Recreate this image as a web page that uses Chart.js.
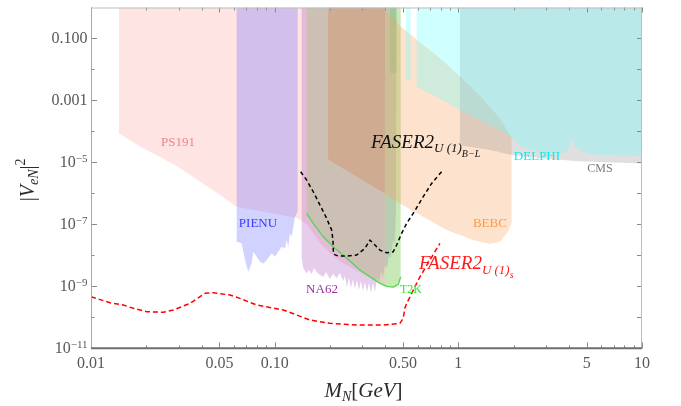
<!DOCTYPE html>
<html>
<head>
<meta charset="utf-8">
<title>Heavy neutral lepton mixing bounds</title>
<script src="https://cdn.jsdelivr.net/npm/chart.js@4.4.1/dist/chart.umd.min.js"></script>
<style>
  html, body { margin: 0; padding: 0; background: #ffffff; }
  #box { width: 681px; height: 406px; }
</style>
</head>
<body>
<div id="box"><canvas id="chart" width="681" height="406"></canvas></div>
<script>
// ---- axis ticks ----
const massTicks = [0.01, 0.05, 0.1, 0.5, 1, 5, 10];
const massTickLabels = ['0.01', '0.05', '0.10', '0.50', '1', '5', '10'];
const massMinorTicks = [0.02, 0.03, 0.04, 0.06, 0.07, 0.08, 0.09, 0.2, 0.3, 0.4, 0.6, 0.7, 0.8, 0.9, 2, 3, 4, 6, 7, 8, 9];
const mixTicks = [1e-1, 1e-3, 1e-5, 1e-7, 1e-9, 1e-11];
const mixTickLabels = ['0.100', '0.001', '10^-5', '10^-7', '10^-9', '10^-11'];
const mixMinorTicks = [1e-2, 1e-4, 1e-6, 1e-8, 1e-10];

// ---- excluded regions (closed outlines, mass in GeV vs |V_eN|^2) ----
const ps191Mass = [0.0142, 0.0142, 0.0185, 0.0238, 0.0305, 0.0392, 0.0504, 0.062, 0.08, 0.1, 0.133, 0.149, 0.165, 0.1765, 0.2, 0.235, 0.29, 0.34, 0.4, 0.45, 0.485, 0.485];
const ps191Mix  = [1, 8.7e-5, 3.2e-5, 1.5e-5, 6.6e-6, 2.4e-6, 8.9e-7, 3.7e-7, 2.8e-7, 2.2e-7, 1.6e-7, 1.0e-7, 4.5e-8, 2.5e-8, 1.2e-8, 5.6e-9, 2.9e-9, 1.7e-9, 1.0e-9, 9e-10, 1.6e-9, 1];

const pienuMass = [0.0621, 0.0621, 0.0661, 0.0689, 0.0718, 0.075, 0.0765, 0.0798, 0.0832, 0.0867, 0.0905, 0.0963, 0.1004, 0.1046, 0.1092, 0.1138, 0.1162, 0.1186, 0.1211, 0.1238, 0.129, 0.1334, 0.1334];
const pienuMix  = [1, 2.75e-8, 2.44e-8, 7.05e-9, 2.96e-9, 5.65e-9, 1.31e-8, 9.0e-9, 6.2e-9, 5.5e-9, 7.05e-9, 1.16e-8, 9.0e-9, 1.31e-8, 1.89e-8, 1.68e-8, 3.12e-8, 1.89e-8, 5.13e-8, 3.98e-8, 1.76e-7, 2.55e-7, 1];

const na62Mass = [0.1403, 0.1403, 0.1431, 0.1493, 0.1537, 0.159, 0.1636, 0.1693, 0.1765, 0.1839, 0.1903, 0.2, 0.2077, 0.2176, 0.2267, 0.2362, 0.2414, 0.2466, 0.2538, 0.2602, 0.2668, 0.2736, 0.2805, 0.2876, 0.2949, 0.3024, 0.3101, 0.318, 0.3261, 0.3343, 0.3428, 0.3516, 0.3605, 0.3697, 0.3791, 0.3887, 0.3985, 0.4087, 0.4191, 0.4297, 0.4406, 0.449, 0.4574, 0.46];
const na62Mix  = [1, 8.0e-9, 3.9e-9, 2.63e-9, 3.36e-9, 2.49e-9, 3.9e-9, 2.89e-9, 2.32e-9, 2.0e-9, 2.89e-9, 1.72e-9, 2.49e-9, 1.85e-9, 2.69e-9, 1.48e-9, 2.15e-9, 9.5e-10, 1.85e-9, 8.8e-10, 1.72e-9, 8.2e-10, 1.6e-9, 7.6e-10, 1.48e-9, 7.05e-10, 1.38e-9, 6.55e-10, 1.28e-9, 6.08e-10, 1.28e-9, 6.55e-10, 1.85e-9, 1.38e-9, 2.89e-9, 2.15e-9, 4.52e-9, 3.9e-9, 9.5e-9, 8.2e-9, 3.12e-8, 2.15e-8, 2.0e-7, 1];

// unlabelled bound sitting on the T2K edge
const bandMass = [0.1493, 0.1493, 0.1622, 0.1839, 0.2085, 0.2466, 0.2912, 0.3302, 0.3743, 0.3985, 0.3985];
const bandMix  = [1, 2.26e-7, 1.08e-7, 3.98e-8, 1.89e-8, 8.0e-9, 3.36e-9, 2.04e-9, 1.25e-9, 1.1e-9, 1];

// darker shading of the band above the BEBC lower edge
const shadeMass = [0.1957, 0.1957, 0.3985, 0.3985];
const shadeMix  = [1, 1.25e-5, 1.0e-6, 1];

const t2kMass = [0.3985, 0.3985, 0.4072, 0.4419, 0.4708, 0.4852, 0.4852];
const t2kMix  = [1, 1.1e-9, 1.0e-9, 9.5e-10, 1.14e-9, 2.0e-9, 1];

const stripMass = [0.424, 0.424, 0.461, 0.461];
const stripMix  = [1, 7.6e-3, 7.6e-3, 1];

const bebcMass = [0.1957, 0.1957, 0.3985, 0.481, 0.644, 0.864, 1.2, 1.486, 1.685, 1.862, 1.95, 1.95, 1.685, 1.311, 1.02, 0.794, 0.618, 0.485, 0.4243, 0.3887];
const bebcMix  = [1, 1.25e-5, 1.0e-6, 4.75e-7, 1.76e-7, 6.55e-8, 3.12e-8, 2.32e-8, 2.75e-8, 5.77e-8, 1.08e-7, 6.08e-5, 2.68e-4, 1.38e-3, 6.08e-3, 0.0232, 0.076, 0.249, 0.565, 1];

const cmsMass = [1.02, 1.02, 1.5, 1.95, 2.78, 4.5, 7, 10, 10];
const cmsMix  = [1, 3.6e-5, 2.5e-5, 1.72e-5, 1.4e-5, 1.1e-5, 1.0e-5, 9.3e-6, 1];

const delphiMass = [0.5185, 0.5185, 0.5498, 0.5498, 0.593, 0.593, 0.794, 1.02, 1.311, 1.685, 1.95, 2.164, 2.78, 3.57, 3.9, 4.21, 4.3, 4.6, 5.2, 6.0, 10, 10];
const delphiMix  = [1, 4.5e-3, 4.5e-3, 1, 1, 2.7e-3, 1.13e-3, 4.9e-4, 2.3e-4, 1.1e-4, 6.5e-5, 3.36e-5, 2.15e-5, 1.85e-5, 2.3e-5, 6.5e-5, 3.6e-5, 2.5e-5, 1.9e-5, 1.72e-5, 1.65e-5, 1];

// ---- curves ----
const t2kEdgeMass = [0.1493, 0.1622, 0.1839, 0.2085, 0.2466, 0.2912, 0.3302, 0.3743, 0.4072, 0.4419, 0.4708, 0.4852];
const t2kEdgeMix  = [2.26e-7, 1.08e-7, 3.98e-8, 1.89e-8, 8.0e-9, 3.36e-9, 2.04e-9, 1.25e-9, 1.0e-9, 9.5e-10, 1.14e-9, 2.0e-9];

const faserBLMass = [0.1385, 0.1493, 0.1622, 0.1765, 0.1919, 0.2043, 0.2077, 0.209, 0.222, 0.2466, 0.2795, 0.3101, 0.3302, 0.3516, 0.3743, 0.4072, 0.4419, 0.4613, 0.4913, 0.5232, 0.5682, 0.644, 0.7154, 0.811];
const faserBLMix  = [5.0e-6, 2.7e-6, 1.13e-6, 4.2e-7, 1.56e-7, 6.55e-8, 3.1e-8, 1.1e-8, 9.5e-9, 9.5e-9, 1.02e-8, 1.68e-8, 3.1e-8, 2.15e-8, 1.48e-8, 1.21e-8, 1.31e-8, 2.15e-8, 5.13e-8, 1.08e-7, 2.26e-7, 7.8e-7, 2.1e-6, 5.0e-6];

const faserSMass = [0.01, 0.0127, 0.015, 0.017, 0.0201, 0.0247, 0.0281, 0.0346, 0.0392, 0.0418, 0.0463, 0.0571, 0.0647, 0.0798, 0.1114, 0.1318, 0.1557, 0.2, 0.2795, 0.3902, 0.481, 0.5012, 0.512, 0.5232, 0.545, 0.58, 0.618, 0.7, 0.794];
const faserSMix  = [4.62e-10, 2.96e-10, 2.49e-10, 1.95e-10, 1.52e-10, 1.45e-10, 1.72e-10, 2.83e-10, 4.62e-10, 5.94e-10, 6.22e-10, 5.24e-10, 4.1e-10, 2.49e-10, 1.72e-10, 1.19e-10, 8.18e-11, 6.4e-11, 5.64e-11, 5.64e-11, 6.4e-11, 9.3e-11, 2.0e-10, 2.83e-10, 4.5e-10, 9.7e-10, 2.04e-9, 7.05e-9, 2.44e-8];

// ---- experiment labels (anchored at their centres) ----
const expNames = ['PS191', 'PIENU', 'NA62', 'T2K', 'BEBC', 'DELPHI', 'CMS'];
const expNameMass = [0.0298, 0.0811, 0.181, 0.552, 1.486, 2.68, 5.9];
const expNameMix  = [4.5e-5, 1.1e-7, 7.6e-10, 7.6e-10, 1.1e-7, 1.6e-5, 6.1e-6];
const expNameColors = ['#f58282', '#3a3aff', '#993399', '#22ee22', '#ff9a40', '#00f0f0', '#7a7a7a'];

// FASER2 sensitivity labels (left end of the baseline)
const faserLabelMass = [0.335, 0.61];
const faserLabelMix  = [2.9e-5, 3.6e-9];

const pts = (m, v) => m.map((x, i) => ({ x, y: v[i] }));

// drawn bottom to top
const layers = [
  { data: pts(ps191Mass, ps191Mix), fill: 'rgba(255,130,130,0.22)' },
  { data: pts(pienuMass, pienuMix), fill: 'rgba(100,100,255,0.29)' },
  { data: pts(na62Mass, na62Mix), fill: 'rgba(170,90,190,0.30)' },
  { data: pts(bandMass, bandMix), fill: 'rgba(172,197,136,0.45)' },
  { data: pts(shadeMass, shadeMix), fill: 'rgba(100,100,115,0.15)' },
  { data: pts(t2kMass, t2kMix), fill: 'rgba(100,240,100,0.35)' },
  { data: pts(stripMass, stripMix), fill: 'rgba(60,170,80,0.18)' },
  { data: pts(bebcMass, bebcMix), fill: 'rgba(250,160,90,0.30)' },
  { data: pts(cmsMass, cmsMix), fill: 'rgba(150,150,150,0.30)' },
  { data: pts(delphiMass, delphiMix), fill: 'rgba(100,255,255,0.30)' },
  { data: pts(t2kEdgeMass, t2kEdgeMix), line: '#4fd84f', width: 1.3, dash: [] },
  { data: pts(faserBLMass, faserBLMix), line: '#000000', width: 1.5, dash: [4, 3] },
  { data: pts(faserSMass, faserSMix), line: '#ff0000', width: 1.5, dash: [5, 3] }
];

const datasets = layers.map((l, i) => ({
  data: l.data,
  order: layers.length - i,
  tension: 0,
  pointRadius: 0,
  pointHoverRadius: 0,
  pointHitRadius: 0,
  fill: l.fill ? 'shape' : false,
  backgroundColor: l.fill || 'transparent',
  borderColor: l.line || 'transparent',
  borderWidth: l.line ? l.width : 0,
  borderDash: l.dash || [],
  clip: false
}));

const serif = '"Liberation Serif", "Times New Roman", serif';
const fontOf = (size, italic) => (italic ? 'italic ' : '') + size + 'px ' + serif;

function drawRuns(ctx, runs, x, y, align) {
  let total = 0;
  runs.forEach(r => { ctx.font = fontOf(r.size, r.italic); r.w = ctx.measureText(r.text).width; total += r.w; });
  let cx = align === 'center' ? x - total / 2 : align === 'right' ? x - total : x;
  ctx.textAlign = 'left';
  ctx.textBaseline = 'alphabetic';
  runs.forEach(r => {
    ctx.font = fontOf(r.size, r.italic);
    ctx.fillText(r.text, cx, y + (r.dy || 0));
    cx += r.w;
  });
}

const annotations = {
  id: 'annotations',
  afterDatasetsDraw(chart) {
    const { ctx, scales: { x, y } } = chart;
    ctx.save();
    ctx.textAlign = 'center';
    ctx.textBaseline = 'middle';
    expNames.forEach((name, i) => {
      ctx.font = fontOf(name === 'T2K' || name === 'CMS' ? 12 : 13, false);
      ctx.fillStyle = expNameColors[i];
      ctx.fillText(name, x.getPixelForValue(expNameMass[i]), y.getPixelForValue(expNameMix[i]));
    });
    // FASER2 U(1)_{B-L}
    ctx.fillStyle = '#111111';
    drawRuns(ctx, [
      { text: 'FASER2', size: 19, italic: true },
      { text: 'U (1)', size: 13, italic: true, dy: 4 },
      { text: 'B\u2212L', size: 10, italic: true, dy: 9 }
    ], x.getPixelForValue(faserLabelMass[0]), y.getPixelForValue(faserLabelMix[0]), 'left');
    // FASER2 U(1)_s
    ctx.fillStyle = '#ff1a1a';
    drawRuns(ctx, [
      { text: 'FASER2', size: 19, italic: true },
      { text: 'U (1)', size: 13, italic: true, dy: 5 },
      { text: 's', size: 10, italic: true, dy: 9 }
    ], x.getPixelForValue(faserLabelMass[1]), y.getPixelForValue(faserLabelMix[1]), 'left');
    ctx.restore();
  }
};

const frame = {
  id: 'frame',
  afterDraw(chart) {
    const { ctx, chartArea: a, scales: { x, y } } = chart;
    ctx.save();
    // inward tick marks on all four sides
    ctx.lineWidth = 1;
    ctx.strokeStyle = '#8a8a8a';
    ctx.beginPath();
    const xTick = (v, lb, lt) => {
      const px = Math.round(x.getPixelForValue(v)) + 0.5;
      ctx.moveTo(px, a.bottom); ctx.lineTo(px, a.bottom - lb);
      ctx.moveTo(px, a.top); ctx.lineTo(px, a.top + lt);
    };
    const yTick = (v, ll, lr) => {
      const py = Math.round(y.getPixelForValue(v)) + 0.5;
      ctx.moveTo(a.left, py); ctx.lineTo(a.left + ll, py);
      ctx.moveTo(a.right, py); ctx.lineTo(a.right - lr, py);
    };
    massTicks.forEach(v => xTick(v, 6, 5));
    massMinorTicks.forEach(v => xTick(v, 3, 3));
    mixTicks.forEach(v => yTick(v, 6, 5));
    mixMinorTicks.forEach(v => yTick(v, 3.5, 5));
    ctx.stroke();

    // frame
    ctx.strokeStyle = '#bdbdbd';
    ctx.beginPath();
    ctx.moveTo(a.left, a.top + 0.5); ctx.lineTo(a.right, a.top + 0.5);
    ctx.moveTo(a.right - 0.5, a.top); ctx.lineTo(a.right - 0.5, a.bottom);
    ctx.stroke();
    ctx.strokeStyle = '#a8a8a8';
    ctx.beginPath();
    ctx.moveTo(a.left + 0.5, a.top); ctx.lineTo(a.left + 0.5, a.bottom);
    ctx.stroke();
    ctx.strokeStyle = '#6e6e6e';
    ctx.lineWidth = 2;
    ctx.beginPath();
    ctx.moveTo(a.left, a.bottom); ctx.lineTo(a.right, a.bottom);
    ctx.stroke();

    // tick labels
    ctx.fillStyle = '#575757';
    ctx.textAlign = 'center';
    ctx.textBaseline = 'alphabetic';
    ctx.font = fontOf(16, false);
    massTicks.forEach((v, i) => ctx.fillText(massTickLabels[i], x.getPixelForValue(v), a.bottom + 20));
    mixTicks.forEach((v, i) => {
      const py = y.getPixelForValue(v) + 5;
      const parts = mixTickLabels[i].split('^');
      const runs = [{ text: parts[0], size: 16 }];
      if (parts[1]) runs.push({ text: parts[1].replace('-', '\u2212'), size: 11, dy: -5.5 });
      drawRuns(ctx, runs, a.left - 3.5, py, 'right');
    });

    // axis titles
    ctx.fillStyle = '#2a2a2a';
    drawRuns(ctx, [
      { text: 'M', size: 21, italic: true },
      { text: 'N', size: 14, italic: true, dy: 4 },
      { text: '[', size: 21 },
      { text: 'GeV', size: 21, italic: true },
      { text: ']', size: 21 }
    ], (a.left + a.right) / 2 - 3, a.bottom + 49, 'center');
    ctx.save();
    ctx.translate(a.left - 57, (a.top + a.bottom) / 2 + 2);
    ctx.rotate(-Math.PI / 2);
    drawRuns(ctx, [
      { text: '|', size: 20 },
      { text: 'V', size: 20, italic: true },
      { text: 'eN', size: 14, italic: true, dy: 4 },
      { text: '|', size: 20 },
      { text: '2', size: 14, dy: -9 }
    ], 0, 0, 'center');
    ctx.restore();
    ctx.restore();
  }
};

new Chart(document.getElementById('chart'), {
  type: 'line',
  data: { datasets },
  options: {
    responsive: false,
    animation: false,
    events: [],
    layout: { padding: { left: 91, right: 39, top: 7.5, bottom: 57.7 } },
    plugins: { legend: { display: false }, tooltip: { enabled: false } },
    scales: {
      x: { type: 'logarithmic', min: 0.01, max: 10, display: false },
      y: { type: 'logarithmic', min: 1e-11, max: 1, display: false }
    }
  },
  plugins: [annotations, frame]
});
</script>
</body>
</html>
